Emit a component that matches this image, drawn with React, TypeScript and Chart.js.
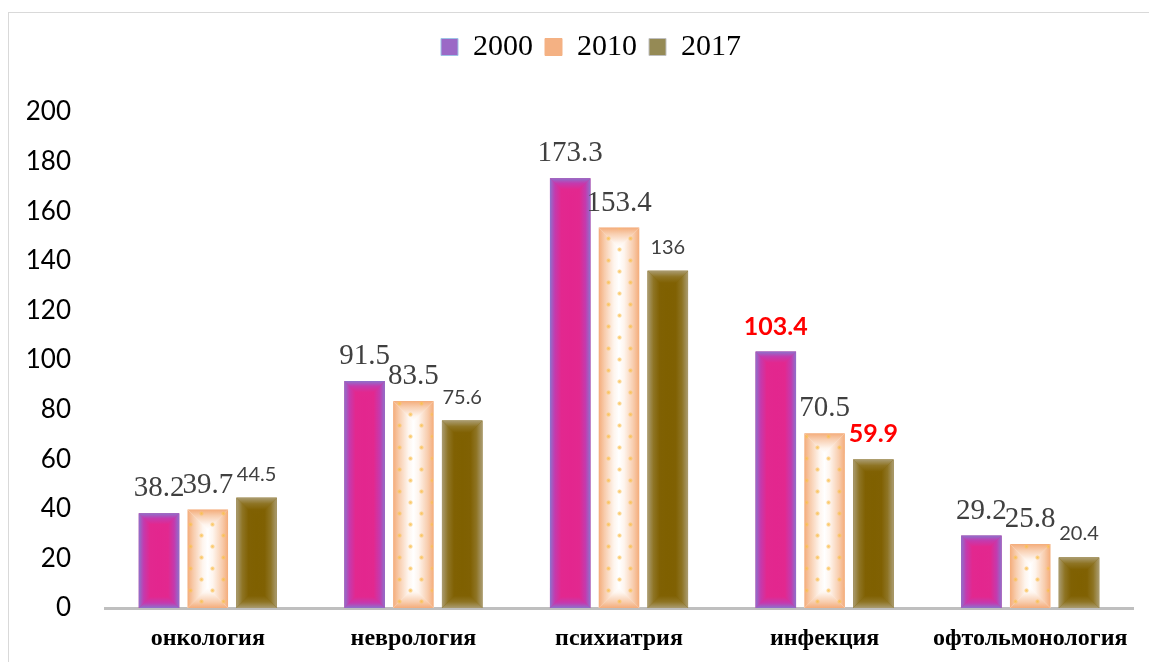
import React, { useEffect, useRef } from 'react';
import { Chart, registerables } from 'chart.js';

Chart.register(...registerables);

const categories = ['онкология', 'неврология', 'психиатрия', 'инфекция', 'офтольмонология'];
const seriesNames = ['2000', '2010', '2017'];
const values2000 = [38.2, 91.5, 173.3, 103.4, 29.2];
const values2010 = [39.7, 83.5, 153.4, 70.5, 25.8];
const values2017 = [44.5, 75.6, 136, 59.9, 20.4];
const yMin = 0;
const yMax = 200;
const yStep = 20;
// [seriesIndex, categoryIndex] of the labels shown in bold red
const highlightedLabels = [[0, 3], [2, 3]];

const legendColors = ['#9B69C6', '#F4B183', '#958A55'];
const legendBorders = ['#9DC3E6', '#F4B183', '#BFBFBF'];
const gradientStops: any[] = [
  [[0, '#8C72CC'], [0.25, '#C43AAE'], [0.55, '#E2288F'], [1, '#E3268E']],
  [[0, '#F4AC7A'], [0.3, '#F8CDAE'], [0.75, '#FEF5EE'], [1, '#FFFFFF']],
  [[0, '#AA9C72'], [0.3, '#8E7424'], [0.6, '#806103'], [1, '#7F6000']],
];

const LEGEND_H = 92;
const LEGEND_SHIFT = 20;

function fillPathGradient(ctx: CanvasRenderingContext2D, x0: number, y0: number, x1: number, y1: number, stops: any[]) {
  const w = x1 - x0;
  const h = y1 - y0;
  if (w <= 0 || h <= 0) return;
  const d = Math.min(w, h) / 2;
  const grad = (ax: number, ay: number, bx: number, by: number) => {
    const g = ctx.createLinearGradient(ax, ay, bx, by);
    for (const [o, c] of stops) g.addColorStop(o, c);
    return g;
  };
  const poly = (pts: number[][], style: any) => {
    ctx.beginPath();
    ctx.moveTo(pts[0][0], pts[0][1]);
    for (let k = 1; k < pts.length; k++) ctx.lineTo(pts[k][0], pts[k][1]);
    ctx.closePath();
    ctx.fillStyle = style;
    ctx.fill();
  };
  ctx.save();
  ctx.fillStyle = stops[stops.length - 1][1];
  ctx.fillRect(x0, y0, w, h);
  poly([[x0, y0], [x0 + d + 0.5, y0 + d], [x0 + d + 0.5, y1 - d], [x0, y1]], grad(x0, 0, x0 + d, 0));
  poly([[x1, y0], [x1 - d - 0.5, y0 + d], [x1 - d - 0.5, y1 - d], [x1, y1]], grad(x1, 0, x1 - d, 0));
  poly([[x0, y0], [x1, y0], [x1 - d, y0 + d + 0.5], [x0 + d, y0 + d + 0.5]], grad(0, y0, 0, y0 + d));
  poly([[x0, y1], [x1, y1], [x1 - d, y1 - d - 0.5], [x0 + d, y1 - d - 0.5]], grad(0, y1, 0, y1 - d));
  ctx.restore();
}

function makeDotPattern(ctx: CanvasRenderingContext2D) {
  const c = document.createElement('canvas');
  c.width = 22;
  c.height = 22;
  const p = c.getContext('2d') as CanvasRenderingContext2D;
  const dot = (x: number, y: number) => {
    const g = p.createRadialGradient(x, y, 0, x, y, 2.6);
    g.addColorStop(0, 'rgba(250,190,70,0.85)');
    g.addColorStop(0.6, 'rgba(250,195,90,0.6)');
    g.addColorStop(1, 'rgba(250,200,110,0)');
    p.fillStyle = g;
    p.beginPath();
    p.arc(x, y, 2.6, 0, Math.PI * 2);
    p.fill();
  };
  dot(5.5, 5.5);
  dot(16.5, 16.5);
  return ctx.createPattern(c, 'repeat');
}

const legendPatchPlugin = {
  id: 'legendPatch',
  beforeLayout(chart: any) {
    const lg = chart.legend;
    if (lg && !lg.__patched) {
      const origFit = lg.fit;
      lg.fit = function () {
        origFit.call(this);
        this.height = LEGEND_H;
      };
      const origDraw = lg.draw;
      lg.draw = function (...args: any[]) {
        const c = this.ctx || chart.ctx;
        c.save();
        c.translate(LEGEND_SHIFT, 0);
        origDraw.apply(this, args);
        c.restore();
      };
      lg.__patched = true;
    }
  },
};

const fancyBarsPlugin = {
  id: 'fancyBars',
  afterDatasetsDraw(chart: any) {
    const ctx = chart.ctx as CanvasRenderingContext2D;
    const pattern = makeDotPattern(ctx);
    chart.data.datasets.forEach((_ds: any, di: number) => {
      const meta = chart.getDatasetMeta(di);
      meta.data.forEach((el: any) => {
        const { x, y, base, width } = el.getProps(['x', 'y', 'base', 'width'], true);
        const x0 = x - width / 2;
        const x1 = x + width / 2;
        const y0 = Math.min(y, base);
        const y1 = Math.max(y, base);
        fillPathGradient(ctx, x0, y0, x1, y1, gradientStops[di]);
        if (di === 1 && pattern) {
          ctx.save();
          ctx.fillStyle = pattern;
          ctx.fillRect(x0 + 1, y0 + 1, x1 - x0 - 2, y1 - y0 - 2);
          ctx.restore();
        }
      });
    });
  },
};

const valueLabelsPlugin = {
  id: 'valueLabels',
  afterDatasetsDraw(chart: any) {
    const ctx = chart.ctx as CanvasRenderingContext2D;
    ctx.save();
    chart.data.datasets.forEach((ds: any, di: number) => {
      const meta = chart.getDatasetMeta(di);
      meta.data.forEach((el: any, i: number) => {
        const v = ds.data[i];
        const red = highlightedLabels.some(([a, b]) => a === di && b === i);
        if (red) ctx.font = 'bold 25px Lato';
        else if (di === 2) ctx.font = '20px Lato';
        else ctx.font = '29px "Liberation Serif"';
        ctx.fillStyle = red ? '#FF0000' : '#404040';
        ctx.textAlign = 'center';
        ctx.textBaseline = 'alphabetic';
        ctx.fillText(String(v), el.x, el.y - 17);
      });
    });
    ctx.restore();
  },
};

export default function App() {
  const ref = useRef<HTMLCanvasElement>(null);

  useEffect(() => {
    if (!ref.current) return;
    const series = [values2000, values2010, values2017];
    const chart = new Chart(ref.current, {
      type: 'bar',
      data: {
        labels: categories,
        datasets: series.map((vals, i) => ({
          label: seriesNames[i],
          data: vals,
          backgroundColor: legendColors[i],
          borderColor: legendBorders[i],
          borderWidth: 1,
          categoryPercentage: 0.712,
          barPercentage: 0.83,
        })),
      },
      options: {
        responsive: false,
        animation: false,
        layout: { padding: { top: 7, left: 0, right: 16, bottom: 0 } },
        plugins: {
          legend: {
            position: 'top',
            labels: {
              boxWidth: 17,
              boxHeight: 17,
              padding: 12,
              color: '#000000',
              font: { family: '"Liberation Serif"', size: 30 },
            },
          },
          tooltip: { enabled: false },
        },
        scales: {
          x: {
            grid: { display: false },
            border: { display: true, color: '#BFBFBF', width: 3 },
            ticks: {
              color: '#000000',
              padding: 8,
              font: { family: '"Liberation Serif"', size: 24, weight: 'bold' },
            },
            afterFit: (s: any) => {
              s.height = 54;
            },
          },
          y: {
            min: yMin,
            max: yMax,
            grid: { display: false },
            border: { display: false },
            ticks: {
              stepSize: yStep,
              color: '#000000',
              padding: 26,
              font: { family: 'Lato', size: 26 },
            },
            afterFit: (s: any) => {
              s.width = 96;
            },
          },
        },
      },
      plugins: [legendPatchPlugin, fancyBarsPlugin, valueLabelsPlugin],
    } as any);
    return () => chart.destroy();
  }, []);

  return (
    <div
      style={{
        position: 'fixed',
        left: 8,
        top: 12,
        width: 1170,
        height: 680,
        border: '1px solid #D9D9D9',
        background: '#FFFFFF',
      }}
    >
      <canvas ref={ref} width={1140} height={649} style={{ display: 'block' }} />
    </div>
  );
}
